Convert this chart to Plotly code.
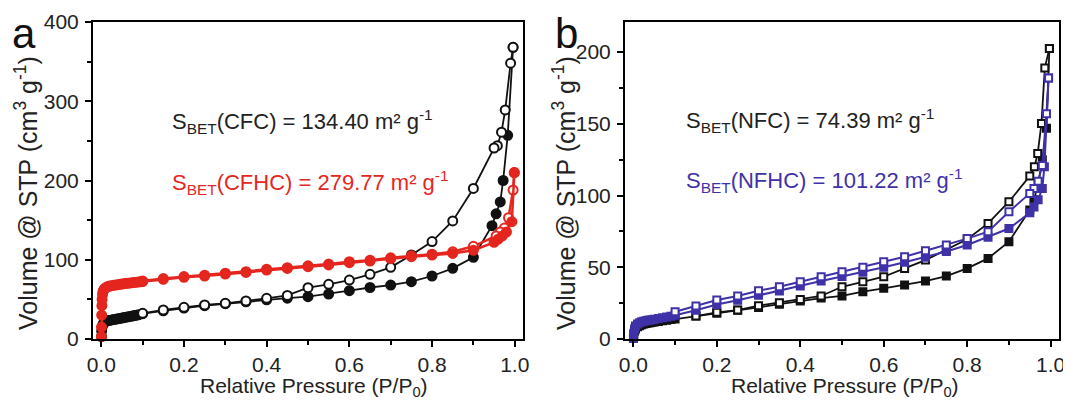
import plotly.graph_objects as go

# ---------------- Panel a: CFC / CFHC ----------------
cfc_ads_p = [0.0005, 0.001, 0.002, 0.004, 0.006, 0.008, 0.01, 0.015, 0.02, 0.025, 0.03, 0.035, 0.04,
             0.045, 0.05, 0.055, 0.06, 0.065, 0.07, 0.075, 0.08, 0.085, 0.09, 0.10, 0.15, 0.20, 0.25,
             0.30, 0.35, 0.40, 0.45, 0.50, 0.55, 0.60, 0.65, 0.70, 0.75, 0.80, 0.85, 0.90, 0.945,
             0.955, 0.965, 0.972, 0.983, 0.996]
cfc_ads_v = [3, 10, 15, 18, 20, 21, 22, 23, 23.5, 24, 24.5, 25, 25.5, 26, 26.5, 27, 27.5, 28, 28.5,
             29, 29.5, 30, 30.5, 32, 35.5, 39, 42, 44.5, 47, 49.5, 51.5, 53.4, 56.8, 61, 65, 68,
             72.3, 79.5, 89.2, 103, 143, 158, 173, 200, 257, 368]
cfc_des_p = [0.996, 0.99, 0.977, 0.968, 0.958, 0.95, 0.90, 0.85, 0.80, 0.75, 0.70, 0.65, 0.60,
             0.55, 0.50, 0.45, 0.40, 0.35, 0.30, 0.25, 0.20, 0.15, 0.10]
cfc_des_v = [368, 348, 289, 261, 244, 241, 190, 149, 123, 106, 90.4, 81.6, 74.4, 69, 64.8, 55,
             51.3, 48, 45, 42.9, 40, 36.6, 32.4]

cfhc_ads_p = [0.0003, 0.0006, 0.001, 0.0015, 0.002, 0.003, 0.004, 0.005, 0.007, 0.01, 0.013, 0.016,
              0.02, 0.025, 0.03, 0.035, 0.04, 0.045, 0.05, 0.055, 0.06, 0.065, 0.07, 0.075, 0.08,
              0.085, 0.09, 0.095, 0.10, 0.15, 0.20, 0.25, 0.30, 0.35, 0.40, 0.45, 0.50, 0.55, 0.60,
              0.65, 0.70, 0.75, 0.80, 0.85, 0.90, 0.95, 0.96, 0.97, 0.98, 0.993, 0.999]
cfhc_ads_v = [3, 15, 30, 42, 50, 56, 59, 61, 63, 64.5, 65.5, 66, 66.8, 67.3, 67.8, 68.2, 68.6, 69,
              69.4, 69.8, 70.2, 70.5, 70.8, 71.1, 71.4, 71.7, 72, 72.2, 72.5, 75.3, 77.8, 79.5, 82,
              84, 87, 89, 91.2, 93.4, 96.3, 98.4, 101.4, 103.9, 106, 108, 112, 122, 126, 130, 135,
              148, 210]
cfhc_des_p = [0.999, 0.996, 0.985, 0.975, 0.965, 0.955, 0.90, 0.85, 0.80, 0.75, 0.70, 0.65, 0.60,
              0.55, 0.50, 0.45, 0.40, 0.35, 0.30, 0.25, 0.20, 0.15, 0.10]
cfhc_des_v = [210, 188, 153, 140, 135, 130, 117, 110, 107, 105, 102.5, 99.5, 97.5, 94.5, 92.3, 90,
              88, 85, 83, 80.5, 78.8, 76.3, 73.3]

# ---------------- Panel b: NFC / NFHC ----------------
nfc_ads_p = [0.0003, 0.001, 0.003, 0.005, 0.01, 0.015, 0.02, 0.025, 0.03, 0.035, 0.04, 0.045, 0.05,
             0.06, 0.07, 0.08, 0.09, 0.10, 0.15, 0.20, 0.25, 0.30, 0.35, 0.40, 0.45, 0.50, 0.55,
             0.60, 0.65, 0.70, 0.75, 0.80, 0.85, 0.90, 0.95, 0.96, 0.97, 0.98, 0.99, 0.997]
nfc_ads_v = [0.5, 3, 5.5, 7, 8.5, 9.3, 10, 10.4, 10.8, 11.1, 11.3, 11.6, 11.8, 12.2, 12.7, 13.1,
             13.6, 14, 16, 18, 20, 22, 24.3, 26.5, 28.5, 30, 33, 35.3, 37.6, 40.4, 43.9, 49.2,
             56.2, 67.8, 90, 97, 108, 125, 147, 202.6]
nfc_des_p = [0.997, 0.986, 0.978, 0.969, 0.961, 0.95, 0.90, 0.85, 0.80, 0.75, 0.70, 0.65, 0.60,
             0.55, 0.50, 0.45, 0.40, 0.35, 0.30, 0.25, 0.20, 0.15]
nfc_des_v = [202.6, 189, 150.3, 129.4, 120, 113.6, 95.7, 80.6, 69.5, 62, 55, 49.2, 43.4, 39.9,
             36.4, 30, 27.6, 25.3, 23.2, 20.2, 18.6, 16]

nfhc_ads_p = [0.0003, 0.001, 0.003, 0.005, 0.01, 0.015, 0.02, 0.025, 0.03, 0.035, 0.04, 0.045,
              0.05, 0.06, 0.07, 0.08, 0.09, 0.10, 0.15, 0.20, 0.25, 0.30, 0.35, 0.40, 0.45, 0.50,
              0.55, 0.60, 0.65, 0.70, 0.75, 0.80, 0.85, 0.90, 0.95, 0.96, 0.97, 0.98, 0.985, 0.995]
nfhc_ads_v = [0.5, 4, 7, 9, 10.5, 11.3, 12, 12.4, 12.8, 13, 13.3, 13.5, 13.8, 14.3, 14.8, 15.3,
              15.8, 16.5, 20, 24, 27, 30.5, 33.5, 37, 40.5, 43.5, 46.5, 50, 53.5, 57, 61, 65.5,
              71, 77, 88, 92, 97, 105, 120, 182]
nfhc_des_p = [0.995, 0.99, 0.98, 0.97, 0.96, 0.95, 0.90, 0.85, 0.80, 0.75, 0.70, 0.65, 0.60, 0.55,
              0.50, 0.45, 0.40, 0.35, 0.30, 0.25, 0.20, 0.15, 0.10]
nfhc_des_v = [182, 157, 121, 110, 105, 101.5, 88.7, 74.8, 70, 65.5, 61.5, 57.4, 53.9, 50, 46.9,
              43.4, 39.9, 36.4, 33.7, 30, 27.2, 23, 19]

x_ticks = [0.0, 0.2, 0.4, 0.6, 0.8, 1.0]
x_tick_labels = ["0.0", "0.2", "0.4", "0.6", "0.8", "1.0"]
ya_ticks = [0, 100, 200, 300, 400]
yb_ticks = [0, 50, 100, 150, 200]

BLACK = "#111111"
RED = "#E4261F"
BLUE = "#3F32A8"
FONT = "Liberation Sans, Arial, sans-serif"

# the page body has an 8px margin: the figure is shifted by it on screen
OFF = 8
W, H = 1071 - OFF, 404 - OFF


def px(sx):
    return (sx - OFF) / W


def py(sy):
    return 1 - (sy - OFF) / H


fig = go.Figure()


def add_series(p, v, color, symbol, filled, xa, ya, size, lw):
    fig.add_trace(go.Scatter(
        x=p, y=v, mode="lines+markers", xaxis=xa, yaxis=ya, cliponaxis=False,
        line=dict(color=color, width=lw),
        marker=dict(symbol=symbol, size=size,
                    color=color if filled else "white",
                    line=dict(color=color, width=2)),
        showlegend=False, hoverinfo="x+y"))


# panel a: black first, red on top (red filled drawn last)
add_series(cfc_ads_p, cfc_ads_v, BLACK, "circle", True, "x", "y", 9, 1.8)
add_series(cfc_des_p, cfc_des_v, BLACK, "circle", False, "x", "y", 9, 1.8)
add_series(cfhc_des_p, cfhc_des_v, RED, "circle", False, "x", "y", 9, 2.5)
add_series(cfhc_ads_p, cfhc_ads_v, RED, "circle", True, "x", "y", 9, 2.5)

# panel b
add_series(nfc_ads_p, nfc_ads_v, BLACK, "square", True, "x2", "y2", 7, 1.8)
add_series(nfc_des_p, nfc_des_v, BLACK, "square", False, "x2", "y2", 7, 1.8)
add_series(nfhc_ads_p, nfhc_ads_v, BLUE, "square", True, "x2", "y2", 7, 2)
add_series(nfhc_des_p, nfhc_des_v, BLUE, "square", False, "x2", "y2", 7, 2)

ya_dom = [py(339), py(22)]


def xaxis(dom, anchor):
    return dict(domain=dom, anchor=anchor, range=[-0.02, 1.02], tickvals=x_ticks,
                ticktext=x_tick_labels, showline=True, linecolor="black", linewidth=2,
                mirror=True, ticks="outside", ticklen=6, tickwidth=2, tickcolor="black",
                minor=dict(dtick=0.1, tick0=0, ticks="outside", ticklen=4, tickwidth=2,
                           tickcolor="black"),
                showgrid=False, zeroline=False, automargin=False,
                tickfont=dict(family=FONT, size=21, color="#222"))


def yaxis(rng, ticks, minor_dt, anchor):
    return dict(domain=ya_dom, anchor=anchor, range=rng, tickvals=ticks, showline=True,
                linecolor="black", linewidth=2, mirror=True, ticks="outside", ticklen=6,
                tickwidth=2, tickcolor="black",
                minor=dict(dtick=minor_dt, tick0=0, ticks="outside", ticklen=4, tickwidth=2,
                           tickcolor="black"),
                showgrid=False, zeroline=False, ticklabelstandoff=2, automargin=False,
                tickfont=dict(family=FONT, size=21, color="#222"))


fig.update_layout(
    width=W, height=H, margin=dict(l=0, r=0, t=0, b=0, autoexpand=False),
    paper_bgcolor="white", plot_bgcolor="white",
    xaxis=xaxis([px(93), px(523)], "y"),
    yaxis=yaxis([0, 400], ya_ticks, 50, "x"),
    xaxis2=xaxis([px(625), px(1059)], "y2"),
    yaxis2=yaxis([0, 221], yb_ticks, 25, "x2"),
)

ann = []


def txt(x, y, text, size, color="#222", angle=0, xanchor="center", yanchor="middle"):
    ann.append(dict(x=px(x), y=py(y), xref="paper", yref="paper", text=text,
                    showarrow=False, xanchor=xanchor, yanchor=yanchor, textangle=angle,
                    font=dict(family=FONT, size=size, color=color)))


# panel letters
txt(10, 8, "a", 42, "#111", xanchor="left", yanchor="top")
txt(566, 8, "b", 42, "#111", yanchor="top")
# axis titles
txt(26, 193, "Volume @ STP (cm<sup>3</sup> g<sup>-1</sup>)", 25, angle=-90)
txt(564, 193, "Volume @ STP (cm<sup>3</sup> g<sup>-1</sup>)", 25, angle=-90)
txt(314, 387, "Relative Pressure (P/P<sub>0</sub>)", 21)
txt(845, 387, "Relative Pressure (P/P<sub>0</sub>)", 21)
# BET annotations
txt(170, 122, "S<sub>BET</sub>(CFC) = 134.40 m² g<sup>-1</sup>", 22, "#222", xanchor="left")
txt(170, 182, "S<sub>BET</sub>(CFHC) = 279.77 m² g<sup>-1</sup>", 22, RED, xanchor="left")
txt(684, 120, "S<sub>BET</sub>(NFC) = 74.39 m² g<sup>-1</sup>", 22, "#222", xanchor="left")
txt(684, 180, "S<sub>BET</sub>(NFHC) = 101.22 m² g<sup>-1</sup>", 22, BLUE, xanchor="left")

fig.update_layout(annotations=ann)
fig.write_html("out.html")
